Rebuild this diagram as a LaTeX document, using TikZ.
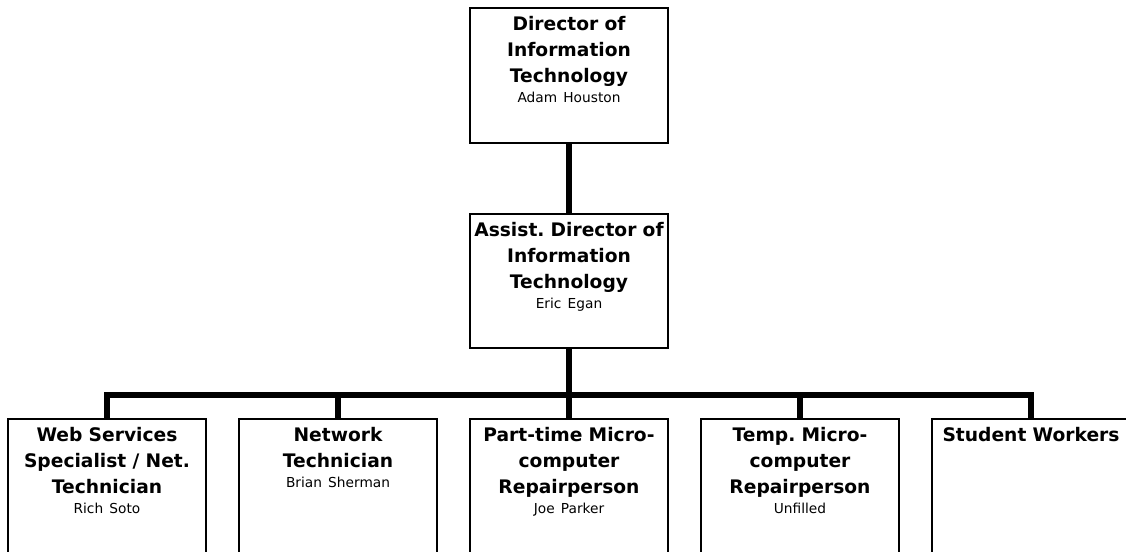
\documentclass[tikz,border=0pt]{standalone}
\usepackage{fontspec}
\setmainfont{DejaVu Sans}
\usetikzlibrary{positioning}

\newcommand{\posname}[1]{\par\fontsize{10.3}{15}\selectfont\mdseries #1\par}

\begin{document}
\begin{tikzpicture}[
    x=0.75pt, y=-0.75pt,
    node distance=23.25pt and 23.25pt,
    box/.style={draw, line width=1.5pt, minimum width=148.5pt, minimum height=142.5pt, inner sep=0pt},
    title/.style={anchor=north, text width=147pt, align=center, inner sep=4pt, yshift=-2.5pt,
                  font=\fontsize{14}{19.5}\selectfont\bfseries\frenchspacing},
    link/.style={line width=4.5pt}
]
\useasboundingbox (0,0) rectangle (1126,552);
\clip (0,0) rectangle (1126,552);

\node[box, minimum height=101.25pt] (dir) at (569,75.5) {};
\node[box, minimum height=100.5pt] (asst) [below=51.75pt of dir] {};
\node[box] (web) at (107,514) {};
\node[box] (net) [right=of web] {};
\node[box] (part) [right=of net] {};
\node[box] (temp) [right=of part] {};
\node[box] (stud) [right=of temp] {};
\coordinate (bus) at (569,395);

\node[title] (dirT) at (dir.north) {Director of\\Information\\Technology\posname{Adam Houston}};
\node[title] (asstT) at (asst.north) {Assist. Director of\\Information\\Technology\posname{Eric Egan}};
\node[title] (webT) at (web.north) {Web Services\\Specialist / Net.\\Technician\posname{Rich Soto}};
\node[title] (netT) at (net.north) {Network\\Technician\posname{Brian Sherman}};
\node[title] (partT) at (part.north) {Part-time Micro-\\computer\\Repairperson\posname{Joe Parker}};
\node[title] (tempT) at (temp.north) {Temp. Micro-\\computer\\Repairperson\posname{Unfilled}};
\node[title] (studT) at (stud.north) {Student Workers};

\draw[link] (dir) -- (asst);
\draw[link] (asst) -- (bus);
\foreach \n in {web,net,part,temp,stud}
    \draw[link] (\n) |- (bus);
\end{tikzpicture}
\end{document}
